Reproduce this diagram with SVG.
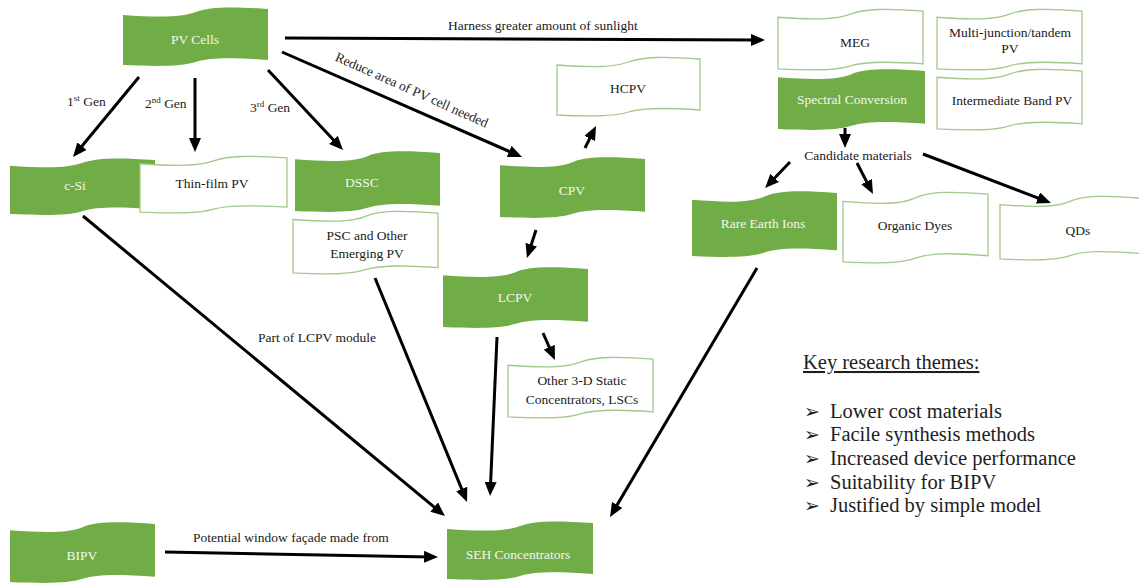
<svg xmlns="http://www.w3.org/2000/svg" width="1139" height="584" viewBox="0 0 1139 584">
  <defs>
    <style>
      .fill { fill: #70ad47; stroke: none; }
      .open { fill: #ffffff; stroke: #a3c98a; stroke-width: 1.3; }
      .lbl { font-family: "Liberation Serif", "Times New Roman", serif; font-size: 13.5px; fill: #1a1a1a; }
      .wht { font-family: "Liberation Serif", "Times New Roman", serif; font-size: 13.5px; fill: #f4f6f0; }
      .mid { text-anchor: middle; }
      .key { font-family: "Liberation Serif", "Times New Roman", serif; font-size: 20.5px; fill: #1e1e1e; }
      .bul { font-family: "DejaVu Sans", sans-serif; font-size: 19px; font-weight: bold; fill: #1e1e1e; }
      .edge { stroke: #000000; stroke-width: 3; fill: none; marker-end: url(#head); }
    </style>
    <marker id="head" viewBox="0 0 14 12" markerWidth="14" markerHeight="12" refX="6" refY="6" orient="auto" markerUnits="userSpaceOnUse">
      <path d="M0,0 L14,6 L0,12 Z" fill="#000000"/>
    </marker>
    <!-- punched-tape outline, 145 x 58 base size -->
    <path id="tape" vector-effect="non-scaling-stroke"
          d="M0,7 C36,9.5 58,9.5 72.5,4 C87,-1.5 109,-1.5 145,1 L145,52 C109,49.5 87,49.5 72.5,54 C58,58.5 36,58.5 0,57 Z"/>
  </defs>

  <rect width="1139" height="584" fill="#ffffff"/>

  <!-- connectors -->
  <g id="connectors">
    <line class="edge" x1="139" y1="77" x2="78.1" y2="150.8"/>
    <line class="edge" x1="195" y1="78" x2="195" y2="144"/>
    <line class="edge" x1="268" y1="70" x2="337.5" y2="144.2"/>
    <line class="edge" x1="282" y1="52" x2="514.7" y2="153.8"/>
    <line class="edge" x1="285" y1="38" x2="757" y2="40"/>
    <line class="edge" x1="585" y1="148" x2="592.4" y2="133.2"/>
    <line class="edge" x1="536" y1="230" x2="529.4" y2="250.4"/>
    <line class="edge" x1="543" y1="333" x2="551.7" y2="352.7"/>
    <line class="edge" x1="497" y1="337" x2="490.4" y2="488"/>
    <line class="edge" x1="375" y1="278" x2="464" y2="494.6"/>
    <line class="edge" x1="83" y1="216" x2="438.8" y2="510.9"/>
    <line class="edge" x1="757" y1="268" x2="614.1" y2="510.1"/>
    <line class="edge" x1="845" y1="128" x2="845" y2="140"/>
    <line class="edge" x1="790" y1="162" x2="770.6" y2="182.2"/>
    <line class="edge" x1="857" y1="163" x2="869.3" y2="186.9"/>
    <line class="edge" x1="923" y1="154" x2="1043.5" y2="200.1"/>
    <line class="edge" x1="165" y1="552" x2="430" y2="556.9"/>

    <text class="lbl" x="67" y="106">1<tspan font-size="9" dy="-5">st</tspan><tspan dy="5"> Gen</tspan></text>
    <text class="lbl" x="145" y="108">2<tspan font-size="9" dy="-5">nd</tspan><tspan dy="5"> Gen</tspan></text>
    <text class="lbl" x="250" y="112">3<tspan font-size="9" dy="-5">rd</tspan><tspan dy="5"> Gen</tspan></text>
    <text class="lbl" x="448" y="30">Harness greater amount of sunlight</text>
    <text class="lbl mid" x="410" y="94" transform="rotate(24 410 94)">Reduce area of PV cell needed</text>
    <text class="lbl mid" x="858" y="160">Candidate materials</text>
    <text class="lbl" x="258" y="342">Part of LCPV module</text>
    <text class="lbl" x="193" y="542">Potential window façade made from</text>
  </g>

  <!-- nodes -->
  <g id="pv-cells">
    <use href="#tape" class="fill" transform="translate(123,8)"/>
    <text class="wht mid" x="195" y="44">PV Cells</text>
  </g>

  <g id="c-si">
    <use href="#tape" class="fill" transform="translate(10,159) scale(1,0.9655)"/>
    <text class="wht mid" x="75" y="190">c-Si</text>
  </g>

  <g id="thin-film">
    <use href="#tape" class="open" transform="translate(140,157) scale(1.0138,0.9655)"/>
    <text class="lbl mid" x="212" y="188">Thin-film  PV</text>
  </g>

  <g id="dssc">
    <use href="#tape" class="fill" transform="translate(295,152) scale(1,1.0345)"/>
    <text class="wht mid" x="362" y="187">DSSC</text>
  </g>

  <g id="psc">
    <use href="#tape" class="open" transform="translate(293,212) scale(1,1.069)"/>
    <text class="lbl mid" x="367" y="240">PSC and Other</text>
    <text class="lbl mid" x="367" y="258">Emerging  PV</text>
  </g>

  <g id="cpv">
    <use href="#tape" class="fill" transform="translate(500,158) scale(1,1.0345)"/>
    <text class="wht mid" x="572" y="195">CPV</text>
  </g>

  <g id="hcpv">
    <use href="#tape" class="open" transform="translate(557,58) scale(0.9862,1)"/>
    <text class="lbl mid" x="628" y="93">HCPV</text>
  </g>

  <g id="meg">
    <use href="#tape" class="open" transform="translate(778,10) scale(1,1.0345)"/>
    <text class="lbl mid" x="855" y="47">MEG</text>
  </g>

  <g id="multi-junction">
    <use href="#tape" class="open" transform="translate(937,10) scale(1,1.0345)"/>
    <text class="lbl mid" x="1010" y="37">Multi-junction/tandem</text>
    <text class="lbl mid" x="1010" y="53">PV</text>
  </g>

  <g id="spectral-conversion">
    <use href="#tape" class="fill" transform="translate(778,70) scale(1.0138,1.0345)"/>
    <text class="wht mid" x="852" y="104">Spectral  Conversion</text>
  </g>

  <g id="intermediate-band">
    <use href="#tape" class="open" transform="translate(937,70) scale(1,1.0345)"/>
    <text class="lbl mid" x="1012" y="105">Intermediate  Band PV</text>
  </g>

  <g id="rare-earth">
    <use href="#tape" class="fill" transform="translate(692,192) scale(1,1.1207)"/>
    <text class="wht mid" x="763" y="228">Rare Earth  Ions</text>
  </g>

  <g id="organic-dyes">
    <use href="#tape" class="open" transform="translate(843,193) scale(1,1.2069)"/>
    <text class="lbl mid" x="915" y="230">Organic  Dyes</text>
  </g>

  <g id="qds">
    <use href="#tape" class="open" transform="translate(1000,197) scale(0.9655,1.0862)"/>
    <text class="lbl mid" x="1078" y="235">QDs</text>
  </g>

  <g id="lcpv">
    <use href="#tape" class="fill" transform="translate(443,268) scale(1,1.0345)"/>
    <text class="wht mid" x="515" y="302">LCPV</text>
  </g>

  <g id="other-static">
    <use href="#tape" class="open" transform="translate(508,358) scale(1,1.0345)"/>
    <text class="lbl mid" x="582" y="385">Other 3-D Static</text>
    <text class="lbl mid" x="582" y="404">Concentrators,  LSCs</text>
  </g>

  <g id="bipv">
    <use href="#tape" class="fill" transform="translate(10,523) scale(1,1.0345)"/>
    <text class="wht mid" x="82" y="560">BIPV</text>
  </g>

  <g id="seh-concentrators">
    <use href="#tape" class="fill" transform="translate(447,522) scale(1.0069,1)"/>
    <text class="wht mid" x="518" y="559">SEH Concentrators</text>
  </g>

  <!-- key research themes list -->
  <g id="key-themes">
    <text class="key" x="803" y="369" text-decoration="underline">Key research themes:</text>
    <text class="bul" x="804" y="418">➢</text>
    <text class="key" x="830" y="418">Lower cost materials</text>
    <text class="bul" x="804" y="441">➢</text>
    <text class="key" x="830" y="441">Facile synthesis methods</text>
    <text class="bul" x="804" y="465">➢</text>
    <text class="key" x="830" y="465">Increased device performance</text>
    <text class="bul" x="804" y="489">➢</text>
    <text class="key" x="830" y="489">Suitability  for BIPV</text>
    <text class="bul" x="804" y="512">➢</text>
    <text class="key" x="830" y="512">Justified by simple model</text>
  </g>
</svg>
